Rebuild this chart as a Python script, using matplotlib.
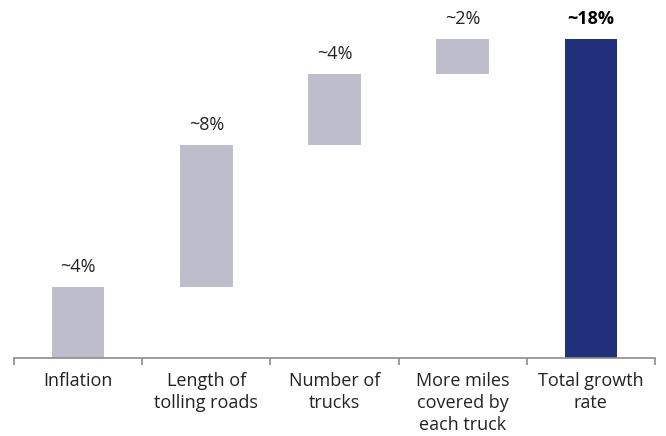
import matplotlib.pyplot as plt
import numpy as np

plt.rcParams['font.family'] = ['Open Sans', 'DejaVu Sans']

categories = ['Inflation', 'Length of\ntolling roads', 'Number of\ntrucks',
              'More miles\ncovered by\neach truck', 'Total growth\nrate']
increments = [4, 8, 4, 2]
total = 18
value_labels = ['~4%', '~8%', '~4%', '~2%', '~18%']

light = '#bebdcc'
dark = '#21307a'

fig = plt.figure(figsize=(6.66, 4.36), dpi=100)
ax = fig.add_axes([0.021, 0.179, 0.9625, 0.818])

x = np.arange(len(categories))
bottoms = np.concatenate([[0], np.cumsum(increments)[:-1]])
heights = list(increments) + [total]
bottoms = list(bottoms) + [0]
colors = [light] * len(increments) + [dark]

ax.bar(x, heights, bottom=bottoms, width=0.41, color=colors)

for i in range(len(categories)):
    top = bottoms[i] + heights[i]
    bold = i == len(categories) - 1
    ax.text(x[i], top + 0.6, value_labels[i], ha='center', va='bottom',
            fontsize=13, color='#222222' if not bold else 'black',
            fontweight='bold' if bold else 'normal')

ax.set_xlim(-0.5, len(categories) - 0.5)
ax.set_ylim(0, 20.1)
ax.set_yticks([])
for s in ['top', 'right', 'left']:
    ax.spines[s].set_visible(False)
ax.spines['bottom'].set_color('#8c8c8c')
ax.spines['bottom'].set_linewidth(1.2)

ax.set_xticks(x)
ax.set_xticklabels(categories, fontsize=13, color='#222222', linespacing=1.3)
ax.tick_params(axis='x', which='major', length=0, pad=10)
ax.set_xticks(np.arange(-0.5, len(categories)), minor=True)
ax.tick_params(axis='x', which='minor', length=5, width=1.2, color='#8c8c8c')

fig.savefig('out.png', dpi=100)
